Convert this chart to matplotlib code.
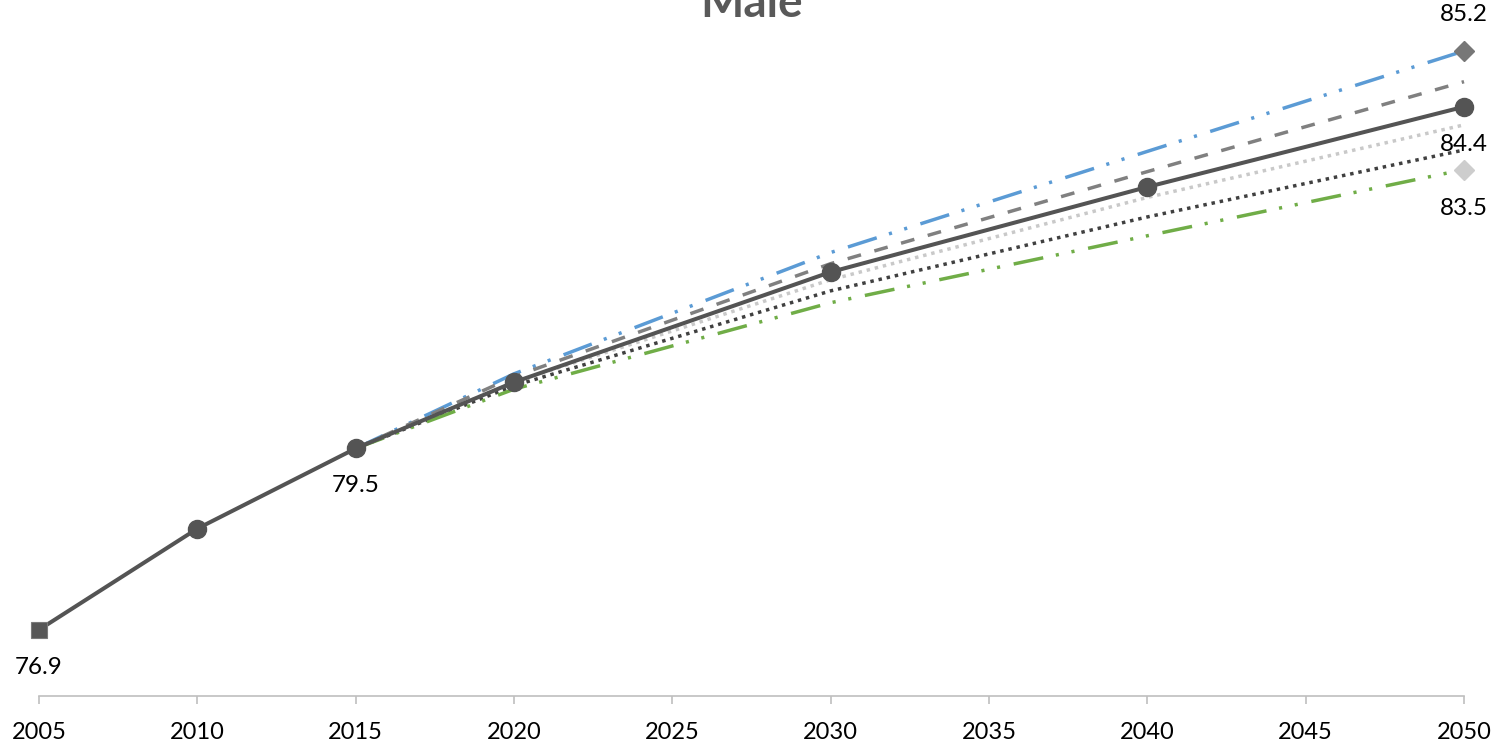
import matplotlib.pyplot as plt

# life expectancy, male - observed + projection variants
years_obs = [2005, 2010, 2015, 2020, 2030, 2040, 2050]
main = [76.9, 78.35, 79.5, 80.45, 82.03, 83.25, 84.4]

years_proj = [2015, 2020, 2030, 2040, 2050]
high_blue = [79.5, 80.57, 82.31, 83.76, 85.2]
high_gray = [79.5, 80.53, 82.15, 83.47, 84.76]
mid_light = [79.5, 80.45, 81.92, 83.10, 84.14]
low_dark = [79.5, 80.40, 81.76, 82.82, 83.78]
low_green = [79.5, 80.35, 81.59, 82.55, 83.5]

range_year = 2050
range_max = 85.2
range_min = 83.5

labels_at = [(2005, 76.9), (2015, 79.5), (2050, 84.4)]
xticks = list(range(2005, 2051, 5))

plt.rcParams['font.family'] = ['Lato', 'DejaVu Sans']

W, H = 1499, 743
fig = plt.figure(figsize=(W / 100, H / 100), dpi=100)
ax = fig.add_axes([39 / W, 1 - 696 / H, (1464 - 39) / W, 700.8 / H])

lw = 2.5
dashdotdot = (0, (8.7, 3.7, 0.9, 3.7, 0.9, 4.0))
ax.plot(years_proj, high_blue, color='#5B9BD5', lw=lw, linestyle=dashdotdot,
        zorder=3, clip_on=False)
ax.plot(years_proj, high_gray, color='#808080', lw=lw, linestyle=(0, (4.0, 4.0)),
        zorder=3, clip_on=False)
ax.plot(years_proj, mid_light, color='#C9C9C9', lw=lw, linestyle=(0, (1.0, 1.4)),
        zorder=3, clip_on=False)
ax.plot(years_proj, low_dark, color='#404040', lw=lw, linestyle=(0, (1.0, 1.4)),
        zorder=3, clip_on=False)
ax.plot(years_proj, low_green, color='#70AD47', lw=lw, linestyle=dashdotdot,
        zorder=3, clip_on=False)

ax.plot(years_obs, main, color='#545454', lw=2.9, marker='o', markersize=13,
        markevery=list(range(1, len(years_obs))), zorder=5, clip_on=False)
ax.plot([years_obs[0]], [main[0]], marker='s', markersize=12, color='#575757',
        markeredgecolor='#7a7a7a', markeredgewidth=0.8, zorder=6, clip_on=False)

ax.plot([range_year], [range_max], marker='D', markersize=10, color='#777777',
        zorder=6, clip_on=False)
ax.plot([range_year], [range_min], marker='D', markersize=10, color='#CDCDCD',
        zorder=6, clip_on=False)

for x, y in labels_at:
    ax.annotate(f'{y:.1f}', (x, y), xytext=(0, -27), textcoords='offset points',
                ha='center', va='center', fontsize=17.5, color='black')
ax.annotate(f'{range_max:.1f}', (range_year, range_max), xytext=(0, 26),
            textcoords='offset points', ha='center', va='center', fontsize=17.5)
ax.annotate(f'{range_min:.1f}', (range_year, range_min), xytext=(0, -28),
            textcoords='offset points', ha='center', va='center', fontsize=17.5)

ax.set_xlim(2005, 2050)
ax.set_ylim(75.95, 86)
ax.set_xticks(xticks)
ax.set_yticks([])
for s in ['left', 'right', 'top']:
    ax.spines[s].set_visible(False)
ax.spines['bottom'].set_color('#BFBFBF')
ax.spines['bottom'].set_linewidth(1.2)
ax.tick_params(axis='x', direction='out', length=5.5, width=1.2, color='#BFBFBF',
               labelsize=17, labelcolor='black', pad=13)
ax.patch.set_alpha(0)

fig.text(752 / W, 1 - 17 / H, 'Male', ha='center', va='baseline', fontsize=33,
         fontweight='bold', color='#595959')

fig.savefig('out.png', dpi=100)
